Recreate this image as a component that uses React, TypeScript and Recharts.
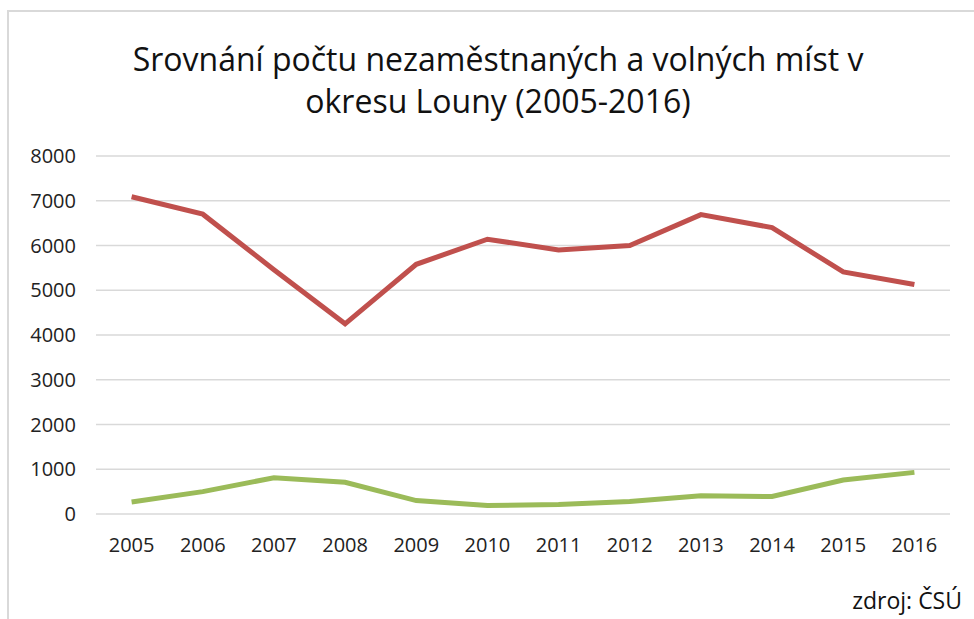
import { CartesianGrid, Line, LineChart, XAxis, YAxis } from "recharts";

const years = ["2005", "2006", "2007", "2008", "2009", "2010", "2011", "2012", "2013", "2014", "2015", "2016"];
const unemployed = [7090, 6700, 5460, 4250, 5580, 6140, 5900, 6000, 6690, 6400, 5410, 5130];
const vacancies = [270, 500, 810, 710, 300, 190, 210, 280, 410, 390, 760, 930];
const yTicks = [0, 1000, 2000, 3000, 4000, 5000, 6000, 7000, 8000];

const rows = years.map((year, i) => ({ year, unemployed: unemployed[i], vacancies: vacancies[i] }));

const font = "'Open Sans', sans-serif";

export default function App() {
  return (
    <div style={{ position: "fixed", left: 0, top: 0, width: 974, height: 619, background: "#fff", overflow: "hidden" }}>
      <div
        style={{
          position: "absolute",
          left: 7,
          top: 10,
          width: 1000,
          height: 700,
          borderLeft: "2px solid #d9d9d9",
          borderTop: "2px solid #d9d9d9",
        }}
      />
      <LineChart
        width={974}
        height={619}
        data={rows}
        margin={{ top: 156, right: 24, bottom: 0, left: 36 }}
        style={{ position: "absolute", left: 0, top: 0 }}
      >
        <CartesianGrid vertical={false} stroke="#d9d9d9" strokeWidth={1.5} />
        <XAxis
          dataKey="year"
          height={105}
          axisLine={false}
          tickLine={false}
          tickMargin={18}
          padding={{ left: 35.6, right: 35.6 }}
          tick={{ fill: "#222", fontSize: 20, fontFamily: font }}
        />
        <YAxis
          width={60}
          domain={[0, 8000]}
          ticks={yTicks}
          axisLine={false}
          tickLine={false}
          tickMargin={14}
          tick={{ fill: "#222", fontSize: 20, fontFamily: font }}
        />
        <Line dataKey="unemployed" stroke="#c0504d" strokeWidth={5} dot={false} isAnimationActive={false} />
        <Line dataKey="vacancies" stroke="#9bbb59" strokeWidth={5} dot={false} isAnimationActive={false} />
      </LineChart>
      <svg width={974} height={619} style={{ position: "absolute", left: 0, top: 0, pointerEvents: "none", whiteSpace: "pre" }}>
        <text x={498} y={71} textAnchor="middle" fontFamily={font} fontSize={32} fill="#111">
          Srovnání počtu nezaměstnaných  a volných míst v
        </text>
        <text x={498} y={113} textAnchor="middle" fontFamily={font} fontSize={32} fill="#111">
          okresu Louny (2005-2016)
        </text>
        <text x={962} y={609} textAnchor="end" fontFamily={font} fontSize={23} fill="#111">
          zdroj: ČSÚ
        </text>
      </svg>
    </div>
  );
}
